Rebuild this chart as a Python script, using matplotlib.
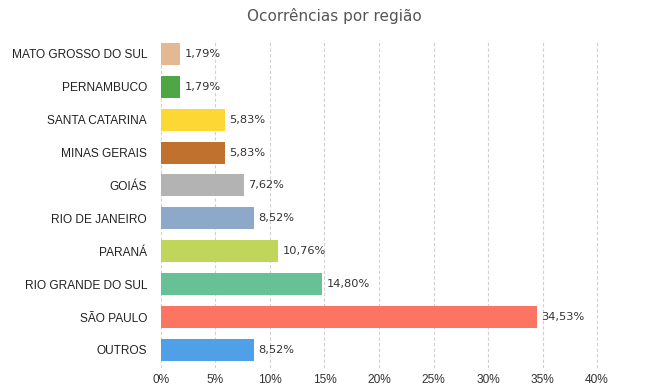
import matplotlib.pyplot as plt
import numpy as np

plt.rcParams['font.family'] = ['Liberation Sans', 'DejaVu Sans']

regions = ["OUTROS", "SÃO PAULO", "RIO GRANDE DO SUL", "PARANÁ", "RIO DE JANEIRO",
           "GOIÁS", "MINAS GERAIS", "SANTA CATARINA", "PERNAMBUCO", "MATO GROSSO DO SUL"]
values = [8.52, 34.53, 14.80, 10.76, 8.52, 7.62, 5.83, 5.83, 1.79, 1.79]
colors = ["#50A0E8", "#FC7562", "#66C295", "#BFD65A", "#8DA9CA",
          "#B3B3B3", "#C0712E", "#FDD835", "#4EA744", "#E5B894"]
xticks = [0, 5, 10, 15, 20, 25, 30, 35, 40]

fig = plt.figure(figsize=(6.68, 3.89), dpi=100)
ax = fig.add_axes([0.241, 0.054, 0.718, 0.843])

y = np.arange(len(regions))
ax.bar_label(ax.barh(y, values, height=0.67, color=colors, zorder=3),
             labels=[f"{v:.2f}%".replace(".", ",") for v in values],
             padding=3, fontsize=8.2, color="#333333", family="DejaVu Sans")

ax.set_xlim(0, 44)
ax.set_ylim(-0.55, 9.42)
ax.set_yticks(y)
ax.set_yticklabels(regions, fontsize=8.6, color="#222222")
ax.set_xticks(xticks)
ax.set_xticklabels([f"{t}%" for t in xticks], fontsize=8.6, color="#333333")
ax.tick_params(length=0, axis="y", pad=10)
ax.tick_params(length=0, axis="x", pad=4)
ax.grid(axis="x", linestyle=(0, (3, 2)), color="#d0d0d0", linewidth=0.8, zorder=0)
for s in ax.spines.values():
    s.set_visible(False)

fig.text(0.5, 0.958, "Ocorrências por região", ha="center", va="center",
         fontsize=11, color="#555555", family="DejaVu Sans")

fig.savefig("out.png", dpi=100)
